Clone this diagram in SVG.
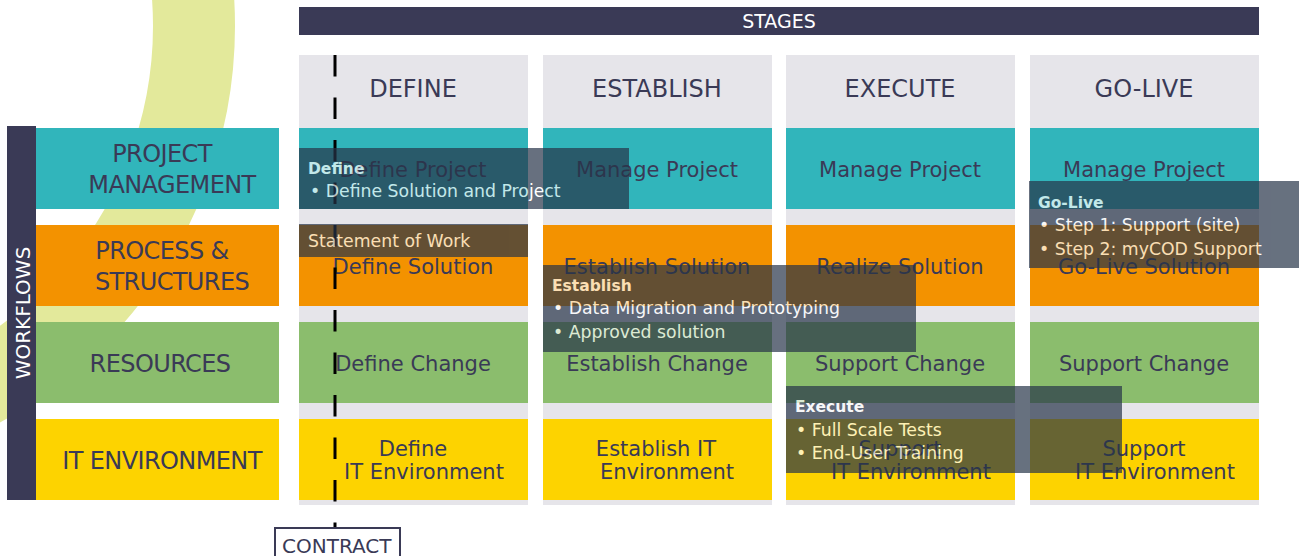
<svg xmlns="http://www.w3.org/2000/svg" width="1300" height="556" viewBox="0 0 1300 556">
<style>
.navy{fill:#3a3a56}
.col{fill:#e6e5ea}
.pm{fill:#31b5bb}
.ps{fill:#f39200}
.rs{fill:#8bbd6d}
.it{fill:#fdd300}
text{font-family:"DejaVu Sans","Liberation Sans",sans-serif;fill:#3a3a56}
.hdr{font-size:24px;text-anchor:middle}
.cell{font-size:21px;text-anchor:middle}
.lbl{font-size:24px;text-anchor:middle;letter-spacing:-0.6px}
.wt{fill:#ffffff}
.callout{opacity:0.7}
.callout rect{fill:#273449}
.callout text{fill:#ffffff;font-size:17.3px}
.callout .ttl{font-weight:bold;font-size:15.5px}
</style>
<rect width="1300" height="556" fill="#ffffff"/>
<circle cx="-217" cy="26" r="411" fill="none" stroke="#e3e99b" stroke-width="82"/>

<g id="stages-header">
<rect class="navy" x="299" y="7" width="960" height="28"/>
<text class="wt" x="779" y="28" font-size="19" text-anchor="middle">STAGES</text>
</g>

<g id="workflows-bar">
<rect class="navy" x="7" y="126" width="29" height="374"/>
<text class="wt" transform="translate(30,313) rotate(-90)" font-size="20" text-anchor="middle">WORKFLOWS</text>
</g>

<g id="label-pm"><rect class="pm" x="36" y="128" width="243" height="81"/>
<text class="lbl" x="162" y="162">PROJECT</text><text class="lbl" x="172" y="193">MANAGEMENT</text></g>
<g id="label-ps"><rect class="ps" x="36" y="225" width="243" height="81"/>
<text class="lbl" x="162" y="259">PROCESS &amp;</text><text class="lbl" x="172" y="290">STRUCTURES</text></g>
<g id="label-rs"><rect class="rs" x="36" y="322" width="243" height="81"/>
<text class="lbl" x="160" y="372">RESOURCES</text></g>
<g id="label-it"><rect class="it" x="36" y="419" width="243" height="81"/>
<text class="lbl" x="162" y="469">IT ENVIRONMENT</text></g>

<g id="stage-define">
<rect class="col" x="299" y="55" width="229" height="450"/>
<text class="hdr" x="413" y="97">DEFINE</text>
<rect class="pm" x="299" y="128" width="229" height="81"/><text class="cell" x="413" y="177">Define Project</text>
<rect class="ps" x="299" y="225" width="229" height="81"/><text class="cell" x="413" y="274">Define Solution</text>
<rect class="rs" x="299" y="322" width="229" height="81"/><text class="cell" x="413" y="371">Define Change</text>
<rect class="it" x="299" y="419" width="229" height="81"/><text class="cell" x="413" y="456">Define</text><text class="cell" x="424" y="479">IT Environment</text>
</g>

<g id="stage-establish">
<rect class="col" x="543" y="55" width="229" height="450"/>
<text class="hdr" x="657" y="97">ESTABLISH</text>
<rect class="pm" x="543" y="128" width="229" height="81"/><text class="cell" x="657" y="177">Manage Project</text>
<rect class="ps" x="543" y="225" width="229" height="81"/><text class="cell" x="657" y="274">Establish Solution</text>
<rect class="rs" x="543" y="322" width="229" height="81"/><text class="cell" x="657" y="371">Establish Change</text>
<rect class="it" x="543" y="419" width="229" height="81"/><text class="cell" x="656" y="456">Establish IT</text><text class="cell" x="667" y="479">Environment</text>
</g>

<g id="stage-execute">
<rect class="col" x="786" y="55" width="229" height="450"/>
<text class="hdr" x="900" y="97">EXECUTE</text>
<rect class="pm" x="786" y="128" width="229" height="81"/><text class="cell" x="900" y="177">Manage Project</text>
<rect class="ps" x="786" y="225" width="229" height="81"/><text class="cell" x="900" y="274">Realize Solution</text>
<rect class="rs" x="786" y="322" width="229" height="81"/><text class="cell" x="900" y="371">Support Change</text>
<rect class="it" x="786" y="419" width="229" height="81"/><text class="cell" x="900" y="456">Support</text><text class="cell" x="911" y="479">IT Environment</text>
</g>

<g id="stage-golive">
<rect class="col" x="1030" y="55" width="229" height="450"/>
<text class="hdr" x="1144" y="97">GO-LIVE</text>
<rect class="pm" x="1030" y="128" width="229" height="81"/><text class="cell" x="1144" y="177">Manage Project</text>
<rect class="ps" x="1030" y="225" width="229" height="81"/><text class="cell" x="1144" y="274">Go-Live Solution</text>
<rect class="rs" x="1030" y="322" width="229" height="81"/><text class="cell" x="1144" y="371">Support Change</text>
<rect class="it" x="1030" y="419" width="229" height="81"/><text class="cell" x="1144" y="456">Support</text><text class="cell" x="1155" y="479">IT Environment</text>
</g>

<g id="connectors">
<line x1="335" y1="55" x2="335" y2="527" stroke="#000000" stroke-width="3" stroke-dasharray="21.5 21"/>
</g>

<g id="contract">
<rect x="275" y="528" width="125" height="32" fill="#ffffff" stroke="#3a3a56" stroke-width="2"/>
<text x="282" y="553" font-size="20">CONTRACT</text>
</g>

<g id="callout-define" class="callout">
<rect x="299" y="148" width="330" height="61"/>
<text class="ttl" x="308" y="174">Define</text>
<text x="310" y="197">•  Define Solution and Project</text>
</g>

<g id="callout-sow" class="callout">
<rect x="299" y="224" width="229" height="33"/>
<text x="308" y="247">Statement of Work</text>
</g>

<g id="callout-establish" class="callout">
<rect x="543" y="265" width="373" height="87"/>
<text class="ttl" x="552" y="291">Establish</text>
<text x="553" y="314">•  Data Migration and Prototyping</text>
<text x="553" y="338">•  Approved solution</text>
</g>

<g id="callout-execute" class="callout">
<rect x="786" y="386" width="336" height="87"/>
<text class="ttl" x="795" y="412">Execute</text>
<text x="796" y="436">•  Full Scale Tests</text>
<text x="796" y="459">•  End-User Training</text>
</g>

<g id="callout-golive" class="callout">
<rect x="1029" y="181" width="270" height="87"/>
<text class="ttl" x="1038" y="208">Go-Live</text>
<text x="1039" y="231">•  Step 1: Support (site)</text>
<text x="1039" y="255">•  Step 2: myCOD Support</text>
</g>
</svg>
